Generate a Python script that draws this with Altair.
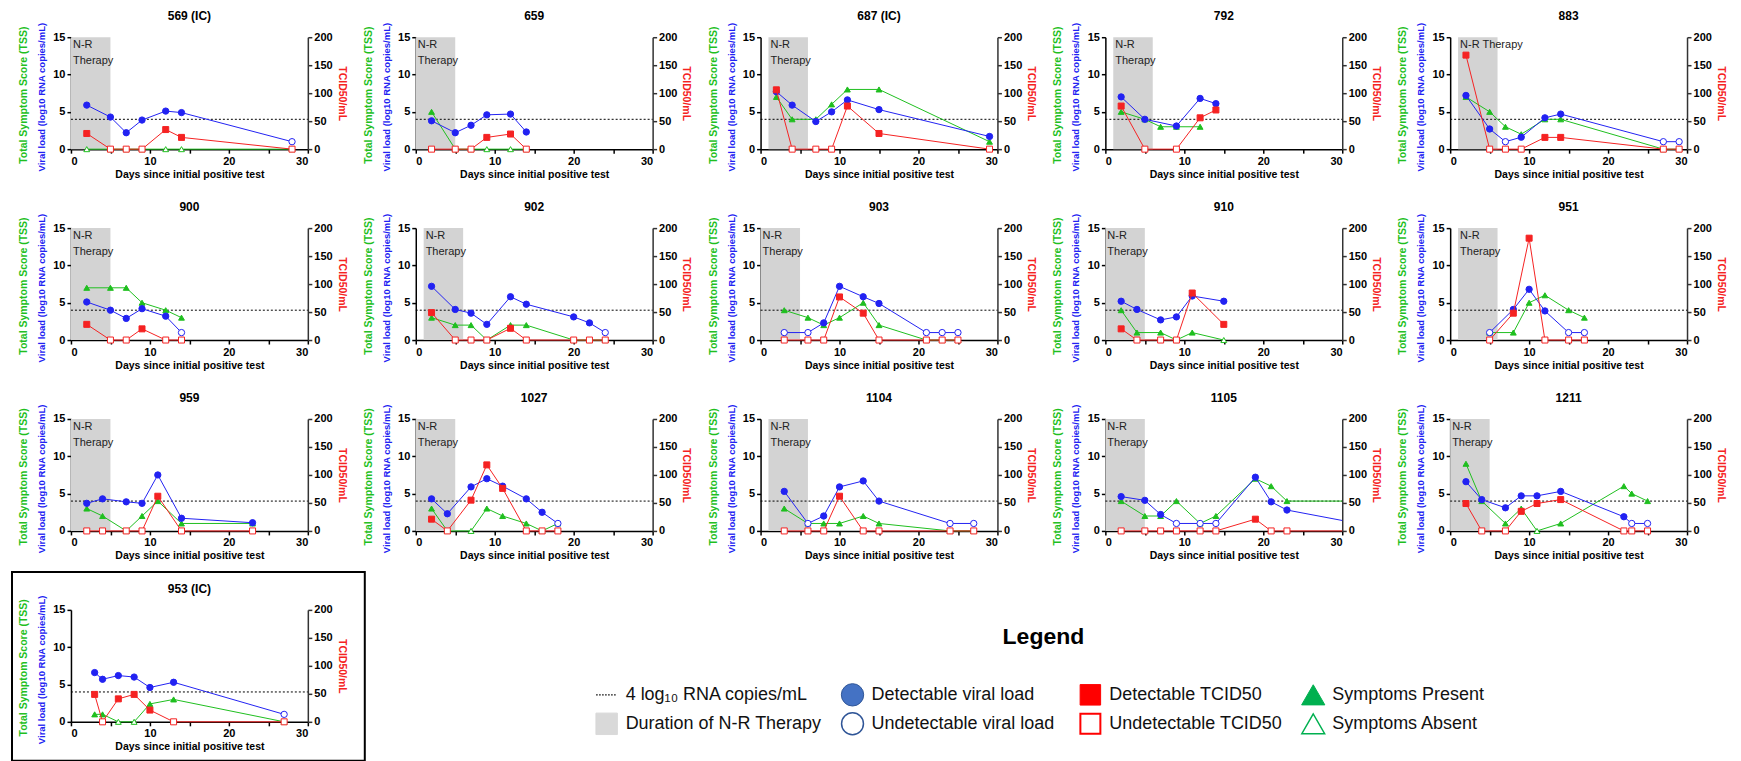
import altair as alt
import pandas as pd

GREEN = "#1FBF1F"
BLUE = "#2222F2"
RED = "#F52222"
GRAY = "#D3D3D3"

PANELS = ["569 (IC)", "659", "687 (IC)", "792", "883",
          "900", "902", "903", "910", "951",
          "959", "1027", "1104", "1105", "1211", "953 (IC)"]

# N-R therapy window (start day, end day)
THERAPY = {"569 (IC)": (0, 5), "659": (0, 5), "687 (IC)": (1, 6), "792": (1, 6), "883": (1, 6),
           "900": (0, 5), "902": (1, 6), "903": (0, 5), "910": (0, 5), "951": (1, 6),
           "959": (0, 5), "1027": (0, 5), "1104": (1, 6), "1105": (0, 5), "1211": (0, 5)}
THERAPY_ONE_LINE = ["883"]

# Total symptom score: (day, score)
TSS = {
    "569 (IC)": [(2, 0), (5, 0), (7, 0), (9, 0), (12, 0), (14, 0), (28, 0)],
    "659": [(2, 5), (5, 0), (7, 0), (9, 0), (12, 0), (14, 0)],
    "687 (IC)": [(2, 7), (4, 4), (7, 4), (9, 6), (11, 8), (15, 8), (29, 1)],
    "792": [(2, 5), (5, 4), (7, 3), (9, 3), (12, 3)],
    "883": [(2, 7), (5, 5), (7, 3), (9, 2), (12, 4), (14, 4), (27, 0), (29, 0)],
    "900": [(2, 7), (5, 7), (7, 7), (9, 5), (12, 4), (14, 3)],
    "902": [(2, 3), (5, 2), (7, 2), (9, 0), (12, 2), (14, 2), (20, 0), (22, 0), (24, 0)],
    "903": [(3, 4), (6, 3), (8, 2), (10, 3), (13, 5), (15, 2), (21, 0), (23, 0), (25, 0)],
    "910": [(2, 4), (4, 1), (7, 1), (9, 0), (11, 1), (15, 0)],
    "951": [(5, 1), (8, 1), (10, 5), (12, 6), (15, 4), (17, 3)],
    "959": [(2, 3), (4, 2), (7, 0), (9, 2), (11, 4), (14, 1), (23, 1)],
    "1027": [(2, 3), (4, 0), (7, 0), (9, 3), (11, 2), (14, 1), (16, 0), (18, 1)],
    "1104": [(3, 3), (6, 1), (8, 1), (10, 1), (13, 2), (15, 1), (24, 0), (27, 0)],
    "1105": [(2, 4), (5, 2), (7, 2), (9, 4), (12, 1), (14, 2), (19, 7), (21, 6), (23, 4)],
    "1211": [(2, 9), (4, 4), (7, 1), (9, 3), (11, 0), (14, 1), (22, 6), (23, 5), (25, 4)],
    "953 (IC)": [(3, 1), (4, 1), (6, 0), (8, 0), (10, 2.4), (13, 3), (27, 0)],
}

# Viral load: (day, log10 copies/mL, detectable 1/0)
VL = {
    "569 (IC)": [(2, 5.9, 1), (5, 4.3, 1), (7, 2.2, 1), (9, 3.9, 1), (12, 5.1, 1), (14, 4.9, 1), (28, 1.0, 0)],
    "659": [(2, 3.8, 1), (5, 2.2, 1), (7, 3.2, 1), (9, 4.6, 1), (12, 4.7, 1), (14, 2.3, 1)],
    "687 (IC)": [(2, 7.7, 1), (4, 5.9, 1), (7, 3.7, 1), (9, 5.0, 1), (11, 6.6, 1), (15, 5.3, 1), (29, 1.7, 1)],
    "792": [(2, 7.0, 1), (5, 4.0, 1), (9, 3.1, 1), (12, 6.8, 1), (14, 6.1, 1)],
    "883": [(2, 7.2, 1), (5, 2.7, 1), (7, 1.0, 0), (9, 1.6, 1), (12, 4.2, 1), (14, 4.7, 1), (27, 1.0, 0), (29, 1.0, 0)],
    "900": [(2, 5.1, 1), (5, 4.0, 1), (7, 2.9, 1), (9, 4.2, 1), (12, 3.2, 1), (14, 1.0, 0)],
    "902": [(2, 7.2, 1), (5, 4.1, 1), (7, 3.6, 1), (9, 2.1, 1), (12, 5.8, 1), (14, 4.8, 1), (20, 3.1, 1), (22, 2.3, 1), (24, 1.0, 0)],
    "903": [(3, 1.0, 0), (6, 1.0, 0), (8, 2.3, 1), (10, 7.2, 1), (13, 5.8, 1), (15, 4.9, 1), (21, 1.0, 0), (23, 1.0, 0), (25, 1.0, 0)],
    "910": [(2, 5.2, 1), (4, 4.1, 1), (7, 2.7, 1), (9, 3.1, 1), (11, 5.9, 1), (15, 5.2, 1)],
    "951": [(5, 1.0, 0), (8, 4.1, 1), (10, 6.8, 1), (12, 3.9, 1), (15, 1.0, 0), (17, 1.0, 0)],
    "959": [(2, 3.7, 1), (4, 4.3, 1), (7, 3.9, 1), (9, 3.7, 1), (11, 7.5, 1), (14, 1.7, 1), (23, 1.1, 1)],
    "1027": [(2, 4.3, 1), (4, 2.3, 1), (7, 5.9, 1), (9, 7.0, 1), (11, 6.0, 1), (14, 4.3, 1), (16, 2.5, 1), (18, 1.0, 0)],
    "1104": [(3, 5.3, 1), (6, 1.0, 0), (8, 2.0, 1), (10, 5.9, 1), (13, 6.7, 1), (15, 4.0, 1), (24, 1.0, 0), (27, 1.0, 0)],
    "1105": [(2, 4.6, 1), (5, 4.1, 1), (7, 2.2, 1), (9, 1.0, 0), (12, 1.0, 0), (14, 1.0, 0), (19, 7.2, 1), (21, 3.9, 1), (23, 2.8, 1)],
    "1211": [(2, 6.6, 1), (4, 4.2, 1), (7, 3.1, 1), (9, 4.7, 1), (11, 4.7, 1), (14, 5.3, 1), (22, 1.9, 1), (23, 1.0, 0), (25, 1.0, 0)],
    "953 (IC)": [(3, 6.6, 1), (4, 5.7, 1), (6, 6.2, 1), (8, 6.0, 1), (10, 4.6, 1), (13, 5.3, 1), (27, 1.0, 0)],
}

# TCID50/mL: (day, value); 0 = undetectable
TCID = {
    "569 (IC)": [(2, 28), (5, 0), (7, 0), (9, 0), (12, 35), (14, 21), (28, 0)],
    "659": [(2, 0), (5, 0), (7, 0), (9, 21), (12, 27), (14, 0)],
    "687 (IC)": [(2, 106), (4, 0), (7, 0), (9, 0), (11, 77), (15, 28), (29, 0)],
    "792": [(2, 77), (5, 0), (9, 0), (12, 56), (14, 70)],
    "883": [(2, 168), (5, 0), (7, 0), (9, 0), (12, 21), (14, 21), (27, 0), (29, 0)],
    "900": [(2, 28), (5, 0), (7, 0), (9, 20), (12, 0), (14, 0)],
    "902": [(2, 49), (5, 0), (7, 0), (9, 0), (12, 21), (14, 0), (20, 0), (22, 0), (24, 0)],
    "903": [(3, 0), (6, 0), (8, 0), (10, 77), (13, 48), (15, 0), (21, 0), (23, 0), (25, 0)],
    "910": [(2, 20), (4, 0), (7, 0), (9, 0), (11, 84), (15, 28)],
    "951": [(5, 0), (8, 48), (10, 182), (12, 0), (15, 0), (17, 0)],
    "959": [(2, 0), (4, 0), (7, 0), (9, 0), (11, 62), (14, 0), (23, 0)],
    "1027": [(2, 21), (4, 0), (7, 55), (9, 118), (11, 76), (14, 0), (16, 0), (18, 0)],
    "1104": [(3, 0), (6, 0), (8, 0), (10, 62), (13, 0), (15, 0), (24, 0), (27, 0)],
    "1105": [(2, 0), (5, 0), (7, 0), (9, 0), (12, 0), (14, 0), (19, 21), (21, 0), (23, 0)],
    "1211": [(2, 49), (4, 0), (7, 0), (9, 35), (11, 49), (14, 56), (22, 0), (23, 0), (25, 0)],
    "953 (IC)": [(3, 49), (4, 0), (6, 41), (8, 49), (10, 21), (13, 0), (27, 0)],
}

# line continues past the last marker to the plot edge (no marker drawn)
LINE_ONLY = {"1105": {"tss": [(30, 4)], "vl": [(30, 1.4)], "tcid": [(30, 0)]}}

LEGEND_LABELS = ["4 log₁₀ RNA copies/mL", "Duration of N-R Therapy",
                 "Detectable viral load", "Undetectable viral load",
                 "Detectable TCID50", "Undetectable TCID50",
                 "Symptoms Present", "Symptoms Absent"]

FONT = "Liberation Sans"
W, H = 237, 112

XS = alt.Scale(domain=[0, 30], nice=False, zero=False)
YL = alt.Scale(domain=[0, 15], nice=False)
YR = alt.Scale(domain=[0, 200], nice=False)

X_AXIS = alt.Axis(title="Days since initial positive test", values=[0, 5, 10, 15, 20, 25, 30],
                  labelExpr="datum.value % 10 === 0 ? datum.label : ''", titlePadding=3)
Y_LEFT = alt.Axis(title=None, values=[0, 5, 10, 15])
Y_RIGHT = alt.Axis(title="TCID50/mL", orient="right", values=[0, 50, 100, 150, 200],
                   titleColor=RED, domainColor="#333333", tickColor="#333333", titlePadding=4)


def X(field):
    return alt.X(f"{field}:Q", scale=XS, axis=X_AXIS)


def series(rows, extra, color, shape, size, yscale, yaxis):
    pts = pd.DataFrame({"day": [r[0] for r in rows], "v": [r[1] for r in rows],
                        "f": [color if r[2] else "white" for r in rows]})
    allrows = [(r[0], r[1]) for r in rows] + list(extra)
    line_df = pd.DataFrame({"day": [r[0] for r in allrows], "v": [r[1] for r in allrows]})
    y = alt.Y("v:Q", scale=yscale, axis=yaxis)
    line = alt.Chart(line_df).mark_line(color=color, strokeWidth=1).encode(
        x=X("day"), y=y, order="day:Q")
    marks = alt.Chart(pts).mark_point(shape=shape, filled=True, size=size, stroke=color,
                                      strokeWidth=1, opacity=1).encode(
        x=X("day"), y=y, fill=alt.Fill("f:N", scale=None))
    return [line, marks]


def make_panel(name):
    left = []
    if name in THERAPY:
        s, e = THERAPY[name]
        band_df = pd.DataFrame({"start": [s], "end": [e],
                                "label": ["N-R Therapy" if name in THERAPY_ONE_LINE else "N-R\nTherapy"]})
        left.append(alt.Chart(band_df).mark_rect(color=GRAY).encode(
            x=X("start"), x2="end:Q", y=alt.value(0), y2=alt.value(H)))
        left.append(alt.Chart(band_df).mark_text(align="left", baseline="top", fontSize=11,
                                                 font=FONT, color="#222222", lineBreak="\n",
                                                 lineHeight=16, dx=2).encode(
            x=X("start"), y=alt.value(2), text="label:N"))
    rule_df = pd.DataFrame({"x0": [0], "x1": [30], "y": [4]})
    left.append(alt.Chart(rule_df).mark_rule(color="black", strokeDash=[2, 2], strokeWidth=1).encode(
        x=X("x0"), x2="x1:Q", y=alt.Y("y:Q", scale=YL, axis=Y_LEFT)))
    extra = LINE_ONLY.get(name, {})
    tss_rows = [(d, v, v > 0) for d, v in TSS[name]]
    left += series(tss_rows, extra.get("tss", []), GREEN, "triangle-up", 34, YL, Y_LEFT)
    left += series(VL[name], extra.get("vl", []), BLUE, "circle", 40, YL, Y_LEFT)
    one = pd.DataFrame({"k": [0]})
    left.append(alt.Chart(one).mark_text(text=name, color="black", fontSize=12, fontWeight="bold",
                                         font=FONT, align="center", baseline="middle").encode(
        x=alt.value(W / 2), y=alt.value(-21)))
    left.append(alt.Chart(one).mark_text(text="Total Symptom Score (TSS)", angle=270, color=GREEN,
                                         fontSize=10.5, fontWeight="bold", font=FONT).encode(
        x=alt.value(-47), y=alt.value(58)))
    left.append(alt.Chart(one).mark_text(text="Viral load (log10 RNA copies/mL)", angle=270, color=BLUE,
                                         fontSize=9.5, fontWeight="bold", font=FONT).encode(
        x=alt.value(-29), y=alt.value(60)))
    if name == "953 (IC)":
        left.append(alt.Chart(one).mark_rect(filled=False, stroke="black", strokeWidth=2).encode(
            x=alt.value(-59), x2=alt.value(294), y=alt.value(-38), y2=alt.value(151)))
    tcid_rows = [(d, v, v > 0) for d, v in TCID[name]]
    right = series(tcid_rows, extra.get("tcid", []), RED, "square", 36, YR, Y_RIGHT)
    return alt.layer(alt.layer(*left), alt.layer(*right)).resolve_scale(y="independent").properties(
        width=W, height=H)


def make_legend():
    cols = [0, 0, 1, 1, 2, 2, 3, 3]
    rows = [0, 1, 0, 1, 0, 1, 0, 1]
    lx = alt.X("col:Q", scale=alt.Scale(domain=[0, 1, 2, 3], range=[191, 437, 675, 898]), axis=None)
    ly = alt.Y("row:Q", scale=alt.Scale(domain=[0, 1], range=[85, 114]), axis=None)
    text_df = pd.DataFrame({"col": cols, "row": rows, "label": LEGEND_LABELS})
    mk = pd.DataFrame({
        "col": [0, 1, 1, 2, 2, 3, 3],
        "row": [1, 0, 1, 0, 1, 0, 1],
        "shape": ["square", "circle", "circle", "square", "square", "triangle-up", "triangle-up"],
        "fill": ["#D9D9D9", "#4472C4", "white", "#FF0000", "white", "#00B050", "white"],
        "stroke": ["#D9D9D9", "#2F5597", "#2F5597", "#FF0000", "#FF0000", "#00B050", "#00B050"],
        "sw": [1, 1, 1.5, 1, 2, 1, 1.5],
        "size": [460, 500, 480, 420, 400, 540, 520],
    })
    dot_df = pd.DataFrame({"col": [0], "row": [0]})
    dots = alt.Chart(dot_df).mark_point(shape="M-1,0L1,0", size=441, filled=False, stroke="black",
                                         strokeWidth=1.2, strokeDash=[1.5, 1.5], opacity=1).encode(x=lx, y=ly)
    marks = alt.Chart(mk).mark_point(filled=True, opacity=1).encode(
        x=lx, y=ly,
        shape=alt.Shape("shape:N", scale=None),
        fill=alt.Fill("fill:N", scale=None),
        stroke=alt.Stroke("stroke:N", scale=None),
        strokeWidth=alt.StrokeWidth("sw:Q", scale=None),
        size=alt.Size("size:Q", scale=None))
    texts = alt.Chart(text_df).mark_text(align="left", baseline="middle", dx=19, fontSize=18,
                                         font=FONT, color="#111111").encode(x=lx, y=ly, text="label:N")
    head = alt.Chart(pd.DataFrame({"k": [0]})).mark_text(
        text="Legend", fontSize=23, fontWeight="bold", font=FONT, color="black",
        align="center", baseline="middle").encode(x=alt.value(628), y=alt.value(27))
    return alt.layer(dots, marks, texts, head).properties(width=W, height=H)


charts = [make_panel(p) for p in PANELS] + [make_legend()]
chart = alt.concat(*charts, columns=5, spacing={"row": 79, "column": 108}, bounds="flush").properties(
    padding={"left": 3, "top": 2, "right": 7, "bottom": 45}
).configure_view(stroke=None).configure_axis(
    grid=False, domainColor="black", domainWidth=1.5, tickColor="black", tickWidth=1.5, tickSize=4,
    labelFont=FONT, labelFontSize=11, labelFontWeight="bold", labelColor="black", labelPadding=2,
    titleFont=FONT, titleFontSize=10.5, titleFontWeight="bold", titleColor="black"
)

chart.save("out.html", embed_options={"renderer": "svg", "actions": False})
